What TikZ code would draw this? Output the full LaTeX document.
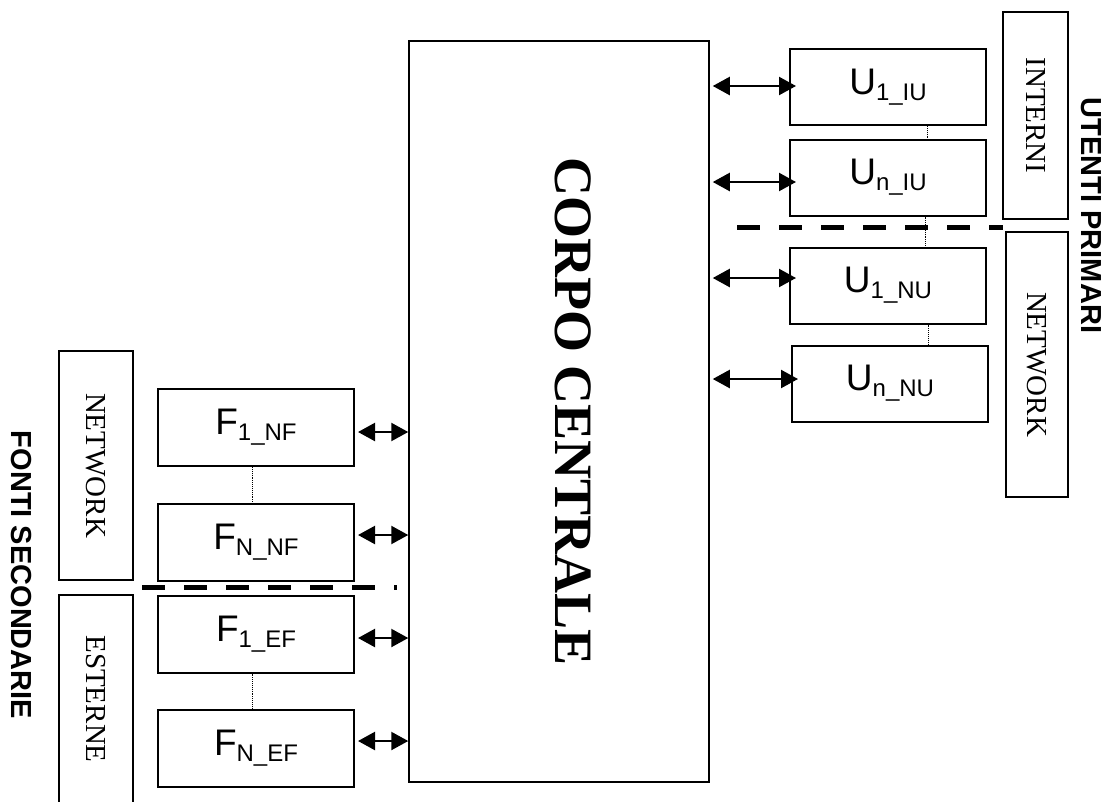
\documentclass[tikz,border=0pt]{standalone}
\usepackage{fontspec}
\setmainfont{Liberation Serif}
\newfontfamily\arialfont{Liberation Sans}
\usepackage{tikz}
\usetikzlibrary{arrows.meta}
\newcommand{\boxlbl}[2]{{\arialfont\fontsize{37}{40}\selectfont #1\raisebox{-6pt}{\fontsize{24}{24}\selectfont #2}}}

\begin{document}
\begin{tikzpicture}[x=1pt,y=-1pt,
  entity/.style={draw=black,line width=2pt,rectangle,minimum width=196pt,minimum height=76pt,inner sep=0pt},
  catbox/.style={draw=black,line width=1.5pt,rectangle,rotate=-90,inner sep=0pt,font=\fontsize{29}{31}\selectfont},
  title/.style={rotate=-90,font=\arialfont\bfseries\fontsize{29}{32}\selectfont},
  biarrow/.style={{Triangle[length=17pt,width=18pt]}-{Triangle[length=17pt,width=18pt]},line width=2.3pt},
  sepline/.style={line width=5pt,dash pattern=on 22.5pt off 19.5pt},
  dots/.style={densely dotted,line width=0.9pt}]
  \useasboundingbox (0,0) rectangle (1110,801);
  \clip (0,0) rectangle (1110,801);
  \node[draw=black,line width=1.5pt,minimum width=300pt,minimum height=741pt] (central) at (559,411.5) {};
  \node[rotate=-90,font=\bfseries\fontsize{54}{60}\selectfont] (corpo) at (573.5,411.5) {CORPO CENTRALE};
  \node[entity] (u1iu) at (888,87) {\boxlbl{U}{1\_IU}};
  \node[entity] (uniu) at (888,177.5) {\boxlbl{U}{n\_IU}};
  \node[entity] (u1nu) at (888,285.5) {\boxlbl{U}{1\_NU}};
  \node[entity] (unnu) at (890,383.5) {\boxlbl{U}{n\_NU}};
  \node[entity,minimum height=77pt] (f1nf) at (256,427.5) {\boxlbl{F}{1\_NF}};
  \node[entity,minimum height=77pt] (fnnf) at (256,542.5) {\boxlbl{F}{N\_NF}};
  \node[entity,minimum height=77pt] (f1ef) at (256,634) {\boxlbl{F}{1\_EF}};
  \node[entity,minimum height=77pt] (fnef) at (256,748.5) {\boxlbl{F}{N\_EF}};
  \node[catbox,minimum width=207pt,minimum height=65pt] (interni) at (1035.5,115.5) {INTERNI};
  \node[catbox,minimum width=265pt,minimum height=62pt] (netu) at (1037,364.5) {NETWORK};
  \node[catbox,minimum width=229pt,minimum height=74pt] (netf) at (96,465.5) {NETWORK};
  \node[catbox,minimum width=208pt,minimum height=74pt] (esterne) at (96,699) {ESTERNE};
  \node[title] (utenti) at (1091,215.5) {UTENTI PRIMARI};
  \node[title] (fonti) at (21.5,575) {FONTI SECONDARIE};
  \draw[sepline] (737,227) -- (1003,227);
  \draw[sepline] (142,587) -- (397,587);
  \foreach \n/\dy in {u1iu/1,uniu/-4.5,u1nu/7.5,unnu/4.5}
    \draw[biarrow,shorten <=3pt] ([yshift=\dy pt]\n.west -| central.east) -- ([yshift=\dy pt,xshift=7pt]\n.west);
  \foreach \n/\dy in {f1nf/-4.5,fnnf/7.5,f1ef/-4,fnef/7.5}
    \draw[biarrow,shorten <=3pt] ([yshift=\dy pt]\n.east) -- ([yshift=\dy pt]\n.east -| central.west);
  \draw[dots] ([xshift=39pt]u1iu.south) -- ([xshift=39pt]uniu.north);
  \draw[dots] ([xshift=37pt]uniu.south) -- ([xshift=37pt]u1nu.north);
  \draw[dots] ([xshift=40pt]u1nu.south) -- ([xshift=38pt]unnu.north);
  \draw[dots] ([xshift=-4pt]f1nf.south) -- ([xshift=-4pt]fnnf.north);
  \draw[dots] ([xshift=-4pt]f1ef.south) -- ([xshift=-4pt]fnef.north);
\end{tikzpicture}
\end{document}
